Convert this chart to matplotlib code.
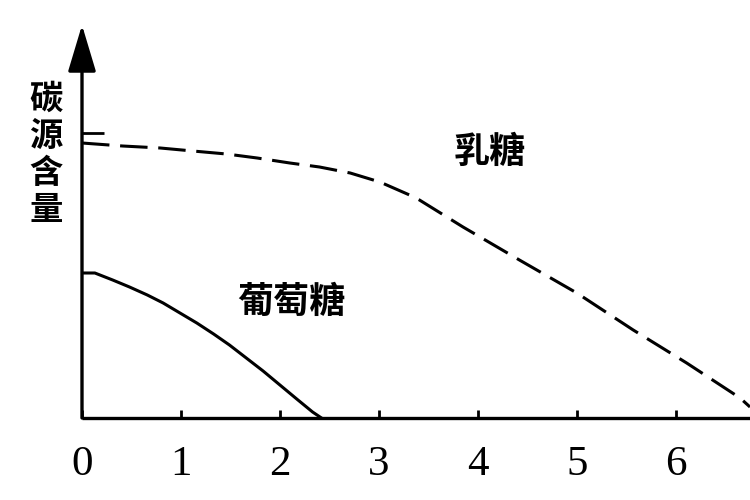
import matplotlib
matplotlib.use('Agg')
import matplotlib.pyplot as plt

# carbon source content vs time
glucose_x = [0.0, 0.13, 0.31, 0.48, 0.66, 0.82, 0.99, 1.16, 1.33, 1.49, 1.66,
             1.83, 2.00, 2.17, 2.33, 2.42]
glucose_y = [1.45, 1.45, 1.38, 1.31, 1.23, 1.15, 1.05, 0.95, 0.84, 0.73, 0.60,
             0.47, 0.33, 0.19, 0.06, 0.0]

lactose_x = [0.0, 0.41, 0.79, 1.12, 1.46, 1.77, 2.10, 2.40, 2.71, 3.01, 3.31,
             3.41, 3.85, 4.42, 5.00, 5.57, 6.11, 6.65, 6.75]
lactose_y = [2.75, 2.72, 2.70, 2.67, 2.64, 2.60, 2.55, 2.51, 2.45, 2.36, 2.23,
             2.18, 1.91, 1.58, 1.25, 0.88, 0.55, 0.20, 0.11]

x_ticks = [0, 1, 2, 3, 4, 5, 6]
y_ticks = [2.85]
y_label = '碳源含量'
glucose_label = '葡萄糖'
lactose_label = '乳糖'

cjk = ['Noto Sans CJK SC', 'DejaVu Sans']

fig = plt.figure(figsize=(7.5, 5), dpi=100)
ax = fig.add_axes([82 / 750, 82 / 500, 668 / 750, 391 / 500])
ax.set_xlim(0, 6.75)
ax.set_ylim(0, 3.91)

ax.plot(glucose_x, glucose_y, color='black', lw=2.2, solid_joinstyle='round')
ax.plot(lactose_x, lactose_y, color='black', lw=2.2, dashes=(9, 3.5))

for side in ['top', 'right', 'left']:
    ax.spines[side].set_visible(False)
ax.spines['bottom'].set_linewidth(2.4)
ax.spines['bottom'].set_capstyle('butt')

# y axis with arrow head
ax.annotate('', xy=(0, 3.93), xytext=(0, 0), xycoords='data',
            arrowprops=dict(arrowstyle='-|>,head_length=1.0,head_width=0.3',
                            mutation_scale=29, lw=2.4, color='black',
                            shrinkA=0, shrinkB=0),
            annotation_clip=False)

ax.set_xticks(x_ticks)
ax.set_xticklabels([str(t) for t in x_ticks], fontfamily='Liberation Serif', fontsize=31)
ax.tick_params(axis='x', direction='in', length=6, width=2, pad=20)
ax.set_yticks(y_ticks)
ax.set_yticklabels([])
ax.tick_params(axis='y', direction='in', length=16, width=2, left=True)

ax.text(4.12, 2.66, lactose_label, family=cjk, fontsize=26, fontweight='bold',
        ha='center', va='center')
ax.text(2.12, 1.16, glucose_label, family=cjk, fontsize=26, fontweight='bold',
        ha='center', va='center')

fig.text(46 / 750, 1 - 155 / 500, '\n'.join(y_label), family=cjk, fontsize=24,
         fontweight='bold', ha='center', va='center', linespacing=1.15)

fig.savefig('out.png', dpi=100)
